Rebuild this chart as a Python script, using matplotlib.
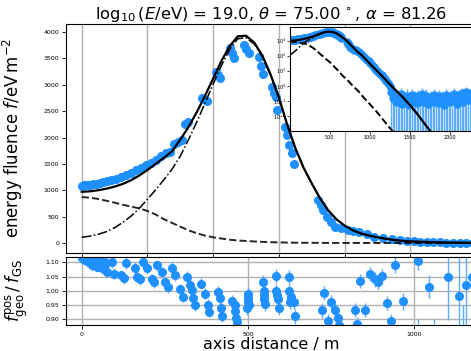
import matplotlib
matplotlib.use('Agg')
import matplotlib.pyplot as plt
import numpy as np


# --- data ---

# measured energy fluence (eV/m^2) against axis distance (m)
r_data = [0, 8, 16, 25, 35, 45, 55, 65, 78, 90, 105, 120, 135, 150, 165, 180, 195, 210,
          225, 240, 255, 268, 280, 292, 305, 315, 322, 365, 373, 380, 410, 414, 421, 450,
          456, 462, 495, 501, 508, 540, 546, 552, 580, 586, 592, 595, 620, 626, 632, 641,
          645, 720, 727, 735, 747, 760, 772, 790, 810, 827, 845, 867, 890, 918, 945, 970,
          990, 1010, 1030, 1050, 1070, 1090, 1110, 1130, 1150, 1170, 1190, 1210, 1230, 1250]
f_data = [1090, 1095, 1100, 1105, 1115, 1125, 1140, 1160, 1170, 1185, 1210, 1250, 1290, 1330,
          1380, 1430, 1480, 1520, 1580, 1650, 1700, 1720, 1880, 1920, 1950, 2260, 2300, 2750,
          2730, 2700, 3250, 3180, 3120, 3700, 3600, 3500, 3750, 3680, 3600, 3530, 3350, 3200,
          2960, 2850, 2770, 2520, 2200, 2050, 1850, 1700, 1500, 815, 720, 620, 500, 400, 310,
          280, 255, 230, 200, 170, 120, 90, 70, 55, 45, 35, 25, 18, 13, 10, 8, 6, 5, 4, 3,
          2.2, 1.6, 1.0]
f_err = [20, 20, 20, 20, 20, 20, 22, 22, 22, 22, 24, 24, 25, 26, 27, 28, 29, 30, 31, 32, 33,
         34, 37, 38, 39, 45, 46, 55, 55, 54, 65, 63, 62, 74, 72, 70, 75, 73, 72, 70, 67, 64,
         59, 57, 55, 50, 44, 41, 37, 34, 30, 16, 14, 12, 10, 8, 6.2, 5.6, 5.1, 4.6, 4.0, 3.4,
         2.4, 1.8, 1.4, 1.1, 0.9, 0.7, 0.5, 0.4, 0.35, 0.3, 0.3, 0.3, 0.3, 0.3, 0.3, 0.3,
         0.3, 0.3]

# noise floor far out (only seen in the inset)
r_tail = [1270, 1290, 1310, 1330, 1350, 1370, 1390, 1410, 1430, 1450, 1470, 1490, 1510, 1530,
          1550, 1570, 1590, 1610, 1630, 1650, 1670, 1690, 1710, 1730, 1750, 1770, 1790, 1810,
          1830, 1850, 1870, 1890, 1910, 1930, 1950, 1970, 1990, 2010, 2030, 2050, 2070, 2090,
          2110, 2130, 2150, 2170, 2190, 2210, 2230, 2250, 2270]
f_tail = [0.4, 0.15, 0.25, 0.08, 0.2, 0.12, 0.3, 0.06, 0.18, 0.1, 0.22, 0.05, 0.14, 0.25,
          0.09, 0.16, 0.07, 0.2, 0.12, 0.3, 0.08, 0.15, 0.22, 0.06, 0.11, 0.18, 0.09, 0.26,
          0.13, 0.07, 0.2, 0.1, 0.16, 0.05, 0.24, 0.12, 0.08, 0.18, 0.1, 0.3, 0.14, 0.06,
          0.2, 0.11, 0.35, 0.09, 0.17, 0.4, 0.12, 0.3, 0.22]
f_tail_err = [0.4, 0.3, 0.35, 0.3, 0.35, 0.3, 0.4, 0.3, 0.3, 0.3, 0.35, 0.3, 0.3, 0.35, 0.3,
              0.3, 0.3, 0.35, 0.3, 0.4, 0.3, 0.3, 0.35, 0.3, 0.3, 0.3, 0.3, 0.35, 0.3, 0.3,
              0.35, 0.3, 0.3, 0.3, 0.35, 0.3, 0.3, 0.3, 0.3, 0.4, 0.3, 0.3, 0.35, 0.3, 0.4,
              0.3, 0.3, 0.45, 0.3, 0.4, 0.35]

# fitted curves: total (solid), first component (dashed), second component (dash-dot)
r_fit = [0, 25, 50, 75, 100, 125, 150, 175, 200, 225, 250, 275, 300, 325, 350, 375, 400,
         425, 450, 475, 500, 525, 550, 575, 600, 625, 650, 675, 700, 725, 750, 775, 800,
         825, 850, 875, 900, 925, 950, 975, 1000, 1100, 1200, 1300, 1400, 1500, 1600,
         1700, 1800, 1900]
f_total = [970, 980, 1000, 1030, 1070, 1120, 1190, 1280, 1385, 1500, 1615, 1740, 1960, 2200,
           2480, 2790, 3120, 3450, 3730, 3920, 3930, 3800, 3550, 3190, 2760, 2250, 1800,
           1430, 1130, 850, 620, 450, 330, 240, 180, 140, 110, 80, 58, 42, 30, 9, 2.5, 0.7,
           0.21, 0.056, 0.0126, 0.0025, 0.0005, 0.0001]
f_first = [870, 860, 835, 800, 765, 725, 690, 657, 607, 540, 450, 380, 310, 240, 185, 140,
           107, 85, 62, 48, 38, 29, 21, 15, 11.2, 8.0, 5.6, 4.0, 3.2, 2.3, 1.7, 1.2, 0.9,
           0.65, 0.5, 0.35, 0.24, 0.17, 0.12, 0.09, 0.063, 0.016, 0.0035, 0.0008, 0.00016,
           0.00003, 0.00001, 0.000001, 0.0000001, 0.00000001]
f_second = [108, 130, 165, 215, 290, 390, 510, 657, 830, 1010, 1200, 1400, 1650, 1960, 2295,
            2650, 3013, 3365, 3668, 3872, 3892, 3771, 3529, 3175, 2749, 2242, 1794, 1426,
            1127, 848, 618, 449, 329, 239, 179, 139, 110, 80, 58, 42, 30, 9, 2.5, 0.7, 0.21,
            0.056, 0.0126, 0.0025, 0.0005, 0.0001]

# ratio f_geo^pos / f_GS
r_ratio = [0, 5, 10, 15, 20, 25, 30, 35, 40, 45, 50, 55, 60, 65, 70, 77, 92, 97, 117, 127,
           132, 160, 165, 175, 183, 195, 210, 218, 225, 240, 250, 260, 270, 280, 295, 303,
           315, 325, 333, 335, 340, 360, 370, 380, 383, 410, 415, 420, 423, 453, 460, 462,
           465, 467, 500, 500, 500, 502, 498, 544, 547, 547, 549, 550, 584, 586, 588, 590,
           595, 624, 625, 630, 628, 642, 640, 723, 730, 742, 750, 763, 770, 775, 823, 828,
           838, 853, 868, 883, 893, 903, 920, 930, 943, 966, 1000, 1011, 1013, 1046, 1060,
           1103, 1136, 1148, 1158, 1175]
ratio = [1.115, 1.12, 1.11, 1.105, 1.12, 1.10, 1.09, 1.115, 1.10, 1.085, 1.11, 1.095, 1.08,
         1.105, 1.09, 1.067, 1.10, 1.06, 1.055, 1.044, 1.098, 1.08, 1.05, 1.04, 1.10, 1.08,
         1.04, 1.03, 1.09, 1.065, 1.03, 1.012, 1.08, 1.055, 1.005, 0.98, 1.05, 1.02, 1.003,
         0.975, 0.95, 1.025, 0.99, 0.95, 0.927, 0.997, 0.975, 0.94, 0.91, 0.965, 0.95, 0.93,
         0.905, 0.89, 0.99, 0.975, 0.96, 0.95, 0.94, 1.032, 1.0, 0.985, 0.97, 0.955, 1.052,
         1.0, 0.985, 0.97, 0.94, 1.048, 1.0, 0.98, 0.96, 0.91, 0.96, 0.931, 0.993, 0.893,
         0.961, 0.931, 0.903, 0.88, 0.934, 0.884, 1.035, 0.934, 1.06, 1.04, 1.032, 1.052,
         0.958, 0.894, 1.092, 0.963, 1.14, 1.105, 0.86, 1.015, 0.85, 1.047, 0.982, 0.8,
         1.022, 1.05]
ratio_err = [0.02, 0.02, 0.02, 0.02, 0.02, 0.02, 0.02, 0.02, 0.02, 0.02, 0.02, 0.02, 0.02,
             0.02, 0.02, 0.02, 0.02, 0.02, 0.02, 0.02, 0.02, 0.02, 0.02, 0.02, 0.02, 0.02,
             0.02, 0.02, 0.02, 0.02, 0.02, 0.02, 0.02, 0.02, 0.02, 0.02, 0.02, 0.02, 0.02,
             0.02, 0.02, 0.02, 0.02, 0.02, 0.02, 0.02, 0.02, 0.02, 0.02, 0.02, 0.02, 0.02,
             0.02, 0.02, 0.025, 0.025, 0.025, 0.025, 0.025, 0.025, 0.025, 0.025, 0.025,
             0.025, 0.025, 0.025, 0.025, 0.025, 0.025, 0.025, 0.025, 0.025, 0.025, 0.025,
             0.025, 0.025, 0.025, 0.025, 0.025, 0.025, 0.025, 0.025, 0.025, 0.025, 0.025,
             0.025, 0.025, 0.025, 0.025, 0.025, 0.025, 0.025, 0.03, 0.03, 0.04, 0.03, 0.04,
             0.04, 0.05, 0.15, 0.2, 0.15, 0.2, 0.15]

title = r'$\log_{10}(E/\mathrm{eV})$ = 19.0, $\theta$ = 75.00$\,^\circ$, $\alpha$ = 81.26'
blue = '#1e90ff'
blue_err = '#5cadff'

W, H = 471, 351
fig = plt.figure(figsize=(W / 100, H / 100), dpi=100)

# main panel, residual panel, inset (the axes run past the right edge of the figure)
ax = fig.add_axes([66 / W, 1 - 252.7 / H, 410 / W, 228.7 / H])
axr = fig.add_axes([66 / W, 1 - 325 / H, 410 / W, 68.3 / H])
axin = fig.add_axes([290 / W, 1 - 131 / H, 190 / W, 104 / H])

# main panel
ax.errorbar(r_data, f_data, yerr=f_err, fmt='o', color=blue, ms=5.5, ecolor=blue_err,
            elinewidth=1, zorder=2)
ax.errorbar(r_tail, f_tail, yerr=f_tail_err, fmt='o', color=blue, ms=5.5, ecolor=blue_err,
            elinewidth=1, zorder=2)
ax.plot(r_fit, f_total, '-', color='k', lw=1.6, zorder=3)
ax.plot(r_fit, f_first, '--', color='k', lw=1.4, alpha=0.85, zorder=3)
ax.plot(r_fit, f_second, '-.', color='k', lw=1.1, zorder=3)
ax.set_xlim(-48, 1187)
ax.set_ylim(-184, 4152)
ax.set_xticks(np.arange(0, 1201, 200))
ax.set_yticks(np.arange(0, 4001, 500))
ax.tick_params(labelsize=4.5, labelbottom=False, length=3, width=0.6, pad=2)
ax.grid(axis='x', color='#b0b0b0', lw=1)
ax.set_axisbelow(True)
ax.set_title(title, fontsize=11.8, pad=3)
ax.set_ylabel(r'energy fluence $f$/eV$\,$m$^{-2}$', fontsize=12)
ax.yaxis.set_label_coords(-0.1, 0.5)

# residual panel
axr.errorbar(r_ratio, ratio, yerr=ratio_err, fmt='o', color=blue, ms=5.5, ecolor=blue_err,
             elinewidth=1, zorder=2)
axr.set_xlim(-48, 1187)
axr.set_ylim(0.88, 1.12)
axr.set_xticks([0, 500, 1000])
axr.set_yticks([0.90, 0.95, 1.00, 1.05, 1.10])
axr.tick_params(labelsize=4.5, length=3, width=0.6, pad=2)
axr.grid(color='#b0b0b0', lw=1)
axr.set_axisbelow(True)
axr.set_xlabel('axis distance / m', fontsize=11.5, labelpad=0)
axr.set_ylabel(r'$f_\mathrm{geo}^\mathrm{pos}\,/\,f_\mathrm{GS}$', fontsize=12)
axr.yaxis.set_label_coords(-0.088, 0.5)

# inset with log scale
axin.errorbar(r_data, f_data, yerr=f_err, fmt='o', color=blue, ms=5, ecolor=blue_err,
              elinewidth=1, zorder=2)
axin.errorbar(r_tail, f_tail, yerr=f_tail_err, fmt='o', color=blue, ms=5, ecolor=blue_err,
              elinewidth=1, zorder=2)
axin.plot(r_fit, f_total, '-', color='k', lw=1.6, zorder=3)
axin.plot(r_fit, f_first, '--', color='k', lw=1.4, zorder=3)
axin.plot(r_fit, f_second, '-.', color='k', lw=1.1, zorder=3)
axin.set_yscale('log')
axin.set_xlim(5, 2380)
axin.set_ylim(1e-3, 8e3)
axin.set_xticks([500, 1000, 1500, 2000])
axin.set_yticks([1e-2, 1e-1, 1e0, 1e1, 1e2, 1e3])
axin.minorticks_off()
axin.tick_params(labelsize=3.5, length=2, width=0.5, pad=1)
axin.set_facecolor('white')

fig.savefig('out.png', dpi=100)
